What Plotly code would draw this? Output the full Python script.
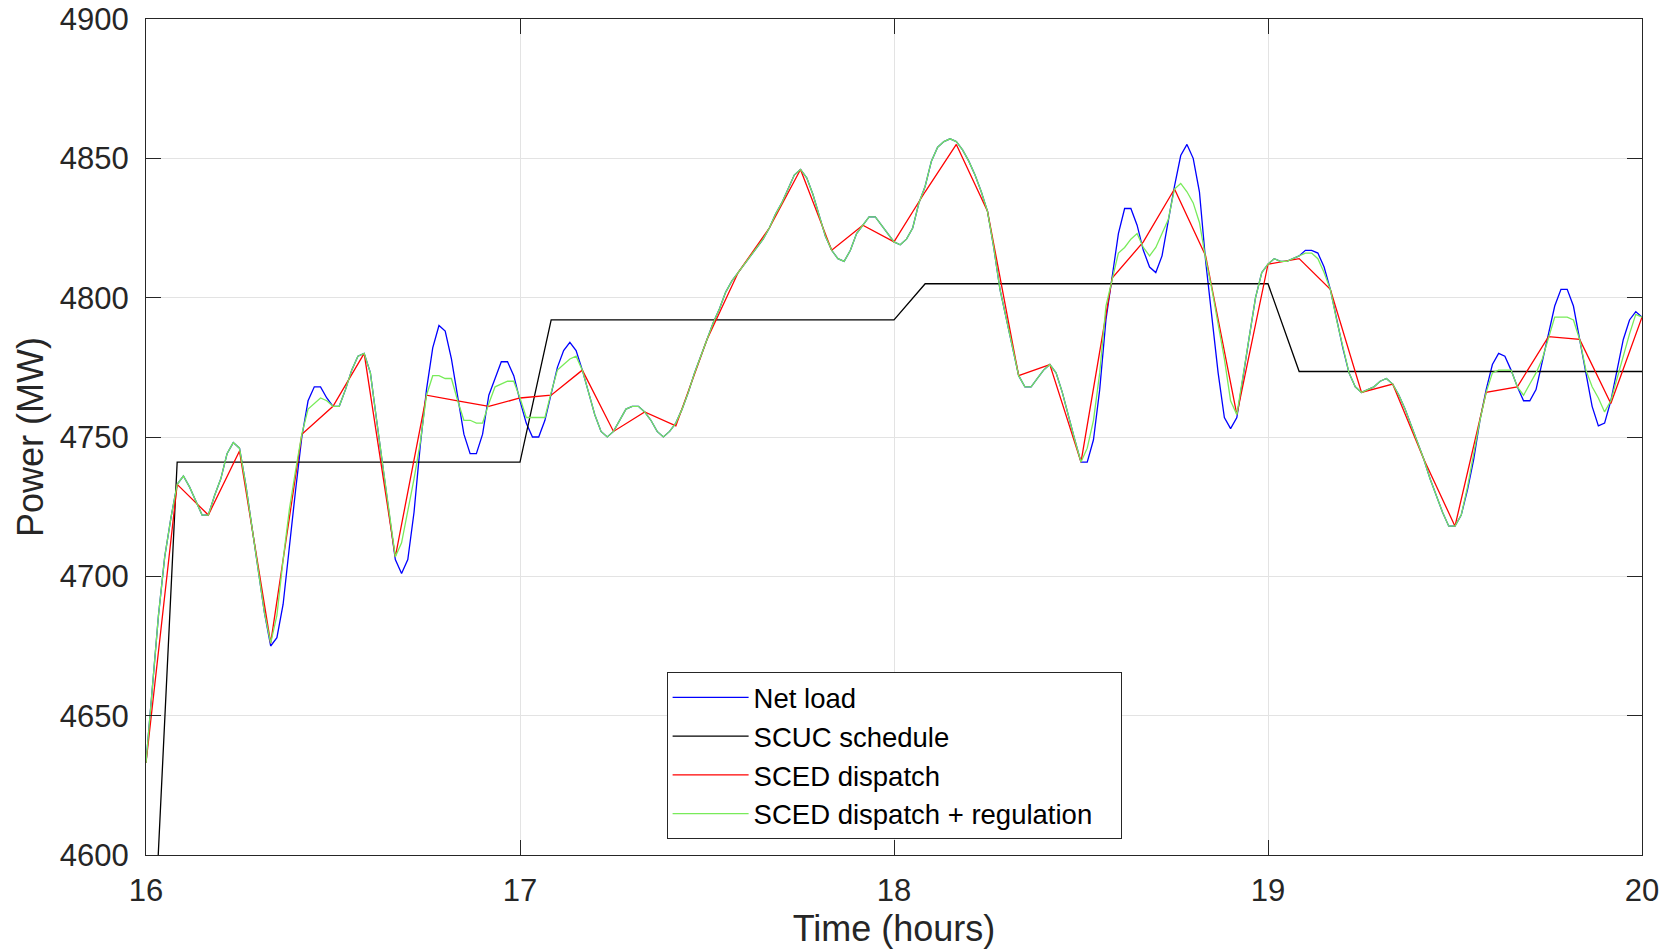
import plotly.graph_objects as go

# ---------------- data ----------------
# Net load, 1-minute samples from 16:00 to 20:00 (MW)
net_load = [
    4633, 4660, 4686, 4707, 4721, 4733, 4736, 4732, 4727, 4722,
    4722, 4729, 4735, 4744, 4748, 4746, 4733, 4718, 4702, 4687,
    4675, 4678, 4690, 4711, 4731, 4750, 4763, 4768, 4768, 4764,
    4761, 4761, 4767, 4774, 4779, 4780, 4773, 4756, 4739, 4724,
    4706, 4701, 4706, 4723, 4747, 4767, 4782, 4790, 4788, 4778,
    4765, 4751, 4744, 4744, 4751, 4765, 4771, 4777, 4777, 4772,
    4763, 4755, 4750, 4750, 4756, 4765, 4775, 4781, 4784, 4781,
    4774, 4766, 4758, 4752, 4750, 4752, 4756, 4760, 4761, 4761,
    4759, 4756, 4752, 4750, 4752, 4755, 4760, 4766, 4773, 4779,
    4785, 4791, 4796, 4802, 4806, 4809, 4812, 4815, 4818, 4821,
    4825, 4830, 4834, 4839, 4844, 4846, 4843, 4837, 4829, 4822,
    4817, 4814, 4813, 4817, 4823, 4826, 4829, 4829, 4826, 4823,
    4820, 4819, 4821, 4825, 4834, 4840, 4849, 4854, 4856, 4857,
    4856, 4853, 4849, 4844, 4838, 4831, 4818, 4803, 4793, 4782,
    4772, 4768, 4768, 4771, 4774, 4776, 4773, 4766, 4757, 4749,
    4741, 4741, 4749, 4767, 4792, 4808, 4823, 4832, 4832, 4826,
    4817, 4811, 4809, 4815, 4828, 4840, 4851, 4855, 4850, 4838,
    4813, 4793, 4773, 4757, 4753, 4757, 4772, 4786, 4800, 4809,
    4812, 4814, 4813, 4813, 4814, 4815, 4817, 4817, 4816, 4811,
    4803, 4792, 4782, 4773, 4768, 4766, 4767, 4768, 4770, 4771,
    4769, 4765, 4760, 4754, 4748, 4742, 4735, 4729, 4723, 4718,
    4718, 4722, 4731, 4742, 4756, 4767, 4776, 4780, 4779, 4774,
    4768, 4763, 4763, 4767, 4777, 4786, 4797, 4803, 4803, 4797,
    4785, 4774, 4761, 4754, 4755, 4763, 4774, 4785, 4792, 4795,
    4793,
]

# SCED dispatch + regulation, 1-minute samples (MW)
sced_plus_reg = [
    4633, 4660, 4686, 4707, 4721, 4733, 4736, 4732, 4727, 4722,
    4722, 4729, 4735, 4744, 4748, 4746, 4733, 4718, 4702, 4687,
    4676, 4686, 4706, 4724, 4738, 4751, 4760, 4762, 4764, 4763,
    4761, 4761, 4767, 4774, 4779, 4780, 4773, 4756, 4739, 4724,
    4707, 4712, 4723, 4735, 4748, 4765, 4772, 4772, 4771, 4771,
    4763, 4756, 4756, 4755, 4755, 4762, 4768, 4769, 4770, 4770,
    4764, 4757, 4757, 4757, 4757, 4766, 4774, 4776, 4778, 4779,
    4774, 4766, 4758, 4752, 4750, 4752, 4756, 4760, 4761, 4761,
    4759, 4756, 4752, 4750, 4752, 4755, 4760, 4766, 4773, 4779,
    4785, 4791, 4796, 4802, 4806, 4809, 4812, 4815, 4818, 4821,
    4825, 4830, 4834, 4839, 4844, 4846, 4843, 4837, 4829, 4822,
    4817, 4814, 4813, 4817, 4823, 4826, 4829, 4829, 4826, 4823,
    4820, 4819, 4821, 4825, 4834, 4840, 4849, 4854, 4856, 4857,
    4856, 4853, 4849, 4844, 4838, 4831, 4818, 4803, 4793, 4782,
    4772, 4768, 4768, 4771, 4774, 4776, 4773, 4766, 4757, 4749,
    4741, 4746, 4756, 4773, 4797, 4807, 4816, 4818, 4821, 4823,
    4818, 4815, 4818, 4823, 4828, 4839, 4841, 4838, 4834, 4827,
    4814, 4803, 4791, 4778, 4763, 4758, 4772, 4786, 4800, 4809,
    4812, 4814, 4813, 4813, 4814, 4815, 4816, 4816, 4814, 4809,
    4803, 4792, 4782, 4773, 4768, 4766, 4767, 4768, 4770, 4771,
    4769, 4765, 4760, 4754, 4748, 4742, 4735, 4729, 4723, 4718,
    4718, 4722, 4732, 4744, 4756, 4766, 4773, 4774, 4774, 4774,
    4768, 4765, 4769, 4773, 4778, 4786, 4793, 4793, 4793, 4792,
    4785, 4774, 4768, 4764, 4759, 4763, 4771, 4779, 4787, 4794,
    4793,
]

# SCED dispatch, 5-minute samples (MW)
sced_dispatch = [
    4633, 4733, 4722, 4745, 4676, 4751, 4761, 4780, 4707, 4765,
    4763, 4761, 4764, 4765, 4774, 4752, 4759, 4754, 4785, 4809,
    4825, 4846, 4817, 4826, 4820, 4838, 4855, 4831, 4772, 4776,
    4741, 4807, 4820, 4839, 4815, 4758, 4812, 4814, 4803, 4766,
    4769, 4742, 4718, 4766, 4768, 4786, 4785, 4762, 4793,
]

# SCUC schedule breakpoints (hour, MW)
scuc_hours = [16.0, 16 + 5 / 60, 17.0, 17 + 5 / 60, 18.0, 18 + 5 / 60, 19.0, 19 + 5 / 60, 20.0]
scuc_values = [4509, 4741, 4741, 4792, 4792, 4805, 4805, 4773.5, 4773.5]

series_names = ["Net load", "SCUC schedule", "SCED dispatch", "SCED dispatch + regulation"]

minute_hours = [16 + m / 60 for m in range(len(net_load))]
five_min_hours = [16 + 5 * k / 60 for k in range(len(sced_dispatch))]

x_ticks = [16, 17, 18, 19, 20]
y_ticks = [4600, 4650, 4700, 4750, 4800, 4850, 4900]

# ---------------- figure ----------------
FONT = "Liberation Sans, Arial, Helvetica, sans-serif"
AX = "#262626"
PAD = "\u00a0\u00a0\u00a0"  # right padding inside the legend box

fig = go.Figure()
fig.add_trace(go.Scatter(x=minute_hours, y=net_load, mode="lines", name=series_names[0],
                         line=dict(color="rgb(0,0,255)", width=1.3)))
fig.add_trace(go.Scatter(x=scuc_hours, y=scuc_values, mode="lines", name=series_names[1],
                         line=dict(color="rgb(0,0,0)", width=1.3)))
fig.add_trace(go.Scatter(x=five_min_hours, y=sced_dispatch, mode="lines", name=series_names[2],
                         line=dict(color="rgb(255,0,0)", width=1.3)))
fig.add_trace(go.Scatter(x=minute_hours, y=sced_plus_reg, mode="lines", name=series_names[3] + PAD,
                         line=dict(color="rgb(120,235,90)", width=1.3)))

axis_common = dict(
    showgrid=True, gridcolor="#e3e3e3", gridwidth=1,
    showline=True, linecolor=AX, linewidth=1.3, mirror="ticks",
    ticks="inside", ticklen=15, tickwidth=1.3, tickcolor=AX,
    tickfont=dict(family=FONT, size=31, color=AX),
    zeroline=False, automargin=False,
)

fig.update_layout(
    width=1673, height=951,
    paper_bgcolor="white", plot_bgcolor="white",
    margin=dict(l=146, r=31, t=19, b=96),
    showlegend=True,
    legend=dict(
        x=0.348, y=0.219, xanchor="left", yanchor="top",
        bgcolor="white", bordercolor=AX, borderwidth=1,
        font=dict(family=FONT, size=27.5, color="black"),
        itemwidth=76,
    ),
    xaxis=dict(range=[16, 20], tickvals=x_ticks, ticktext=[str(v) for v in x_ticks],
               title=dict(text="Time (hours)", font=dict(family=FONT, size=36, color=AX), standoff=6),
               ticklabelstandoff=8, **axis_common),
    yaxis=dict(range=[4600, 4900], tickvals=y_ticks, ticktext=[str(v) for v in y_ticks],
               title=dict(text="Power (MW)", font=dict(family=FONT, size=36, color=AX), standoff=5),
               ticklabelstandoff=10, **axis_common),
)

fig.write_html("out.html")
